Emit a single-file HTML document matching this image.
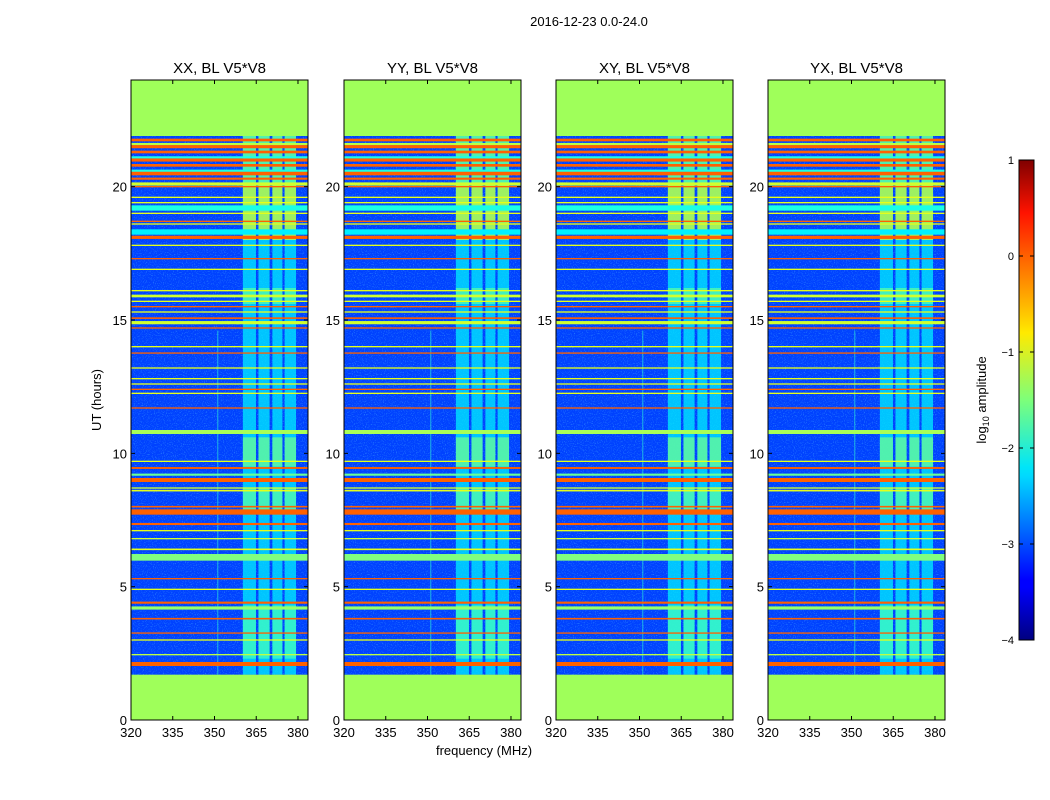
<!DOCTYPE html>
<html><head><meta charset="utf-8"><style>
body{margin:0;background:#fff}
svg{display:block;font-family:"Liberation Sans",sans-serif}
</style></head><body>
<svg id="fig" width="1050" height="800" viewBox="0 0 1050 800">
<defs>
<filter id="noise" x="0" y="0" width="100%" height="100%"><feTurbulence type="fractalNoise" baseFrequency="0.9" numOctaves="1" seed="3"/><feColorMatrix values="0 0 0 0 0.1  0 0 0 0 0.6  0 0 0 0 1  0 0 0 1.6 -0.85"/></filter>
<linearGradient id="jet" x1="0" y1="1" x2="0" y2="0">
<stop offset="0" stop-color="#000080"/><stop offset="0.11" stop-color="#0000ff"/><stop offset="0.125" stop-color="#0000ff"/><stop offset="0.34" stop-color="#00d8ff"/><stop offset="0.36" stop-color="#00e5f8"/><stop offset="0.5" stop-color="#7dff7a"/><stop offset="0.64" stop-color="#ffea00"/><stop offset="0.66" stop-color="#ffd800"/><stop offset="0.89" stop-color="#ff1300"/><stop offset="1" stop-color="#800000"/>
</linearGradient>
</defs>
<text x="589" y="26" font-size="13" text-anchor="middle">2016-12-23 0.0-24.0</text>
<text transform="translate(101,400) rotate(-90)" font-size="13" text-anchor="middle">UT (hours)</text>
<text x="484" y="755" font-size="13" text-anchor="middle">frequency (MHz)</text>
<text transform="translate(986,400) rotate(-90)" font-size="13" text-anchor="middle">log<tspan font-size="9" dy="3">10</tspan><tspan dy="-3"> amplitude</tspan></text>
<g id="panels"></g>
<g id="cbar"></g>
</svg>
<script>
const titles=["XX, BL V5*V8","YY, BL V5*V8","XY, BL V5*V8","YX, BL V5*V8"];
const xTicks=[320,335,350,365,380];
const yTicks=[0,5,10,15,20];
const cbTicks=[1,0,-1,-2,-3,-4];
const blankRanges=[[0,1.7],[21.9,24]];
const channelBands=[[360.2,364.9],[365.8,369.8],[370.8,374.4],[375.2,379.3]];
const bandSegments=[[1.7,21.9,-2.2],[2.3,4.3,-1.8],[7.8,8.7,-1.7],[9.5,10.6,-1.6],[15.6,16.2,-1.7],[18.0,20.1,-1.1],[20.1,21.9,-1.6]];
const rowHours=[2.1,2.45,3.0,3.26,3.8,4.2,4.4,4.9,5.3,6.1,6.4,6.8,7.1,7.35,7.8,8.0,8.6,8.7,9.0,9.2,9.45,9.7,10.8,11.7,12.25,12.4,12.6,12.8,13.2,13.76,14.0,14.7,14.9,15.07,15.3,15.5,15.7,15.9,16.1,16.9,17.3,17.8,18.1,18.3,18.6,18.7,19.0,19.2,19.4,19.6,20.0,20.1,20.3,20.5,20.6,20.8,21.0,21.1,21.3,21.5,21.6,21.75];
const rowWidths=[0.15,0.05,0.05,0.05,0.06,0.12,0.08,0.05,0.05,0.25,0.06,0.05,0.05,0.08,0.2,0.06,0.06,0.05,0.15,0.08,0.07,0.05,0.15,0.05,0.05,0.05,0.05,0.05,0.05,0.05,0.05,0.05,0.12,0.06,0.05,0.05,0.05,0.1,0.05,0.05,0.05,0.05,0.12,0.2,0.05,0.05,0.05,0.2,0.05,0.05,0.05,0.12,0.08,0.15,0.08,0.1,0.12,0.08,0.1,0.12,0.08,0.1];
const rowValues=[-0.1,-1.2,-1.0,-0.1,-0.1,-1.4,-0.1,-1.0,-0.1,-1.5,-1.0,-1.1,-1.0,-0.1,-0.1,-0.1,-1.0,-1.1,-0.1,-1.6,-0.1,-1.0,-1.3,-0.1,-1.0,-0.1,-1.0,-1.0,-1.0,-0.1,-1.0,-0.1,-1.1,-0.1,-1.0,-0.1,-1.0,-1.1,-1.0,-1.0,-0.1,-1.0,-0.1,-2.2,-1.0,-0.1,-1.0,-2.0,-1.0,-1.0,-0.1,-1.1,-0.1,-0.1,-2.0,-0.1,-0.1,-2.0,-0.1,-0.1,-1.2,-0.1];
const vLines=[351];
const panelLeft=[131,344,556,768];
const PW=177,TOP=80,BOT=720,FMIN=320,FMAX=383.6,VMIN=-4,VMAX=1;
const NS="http://www.w3.org/2000/svg";
function jet(v){let t=(v-VMIN)/(VMAX-VMIN);const c=x=>Math.round(255*Math.max(0,Math.min(1,x)));
return `rgb(${c(1.5-Math.abs(4*t-3))},${c(1.5-Math.abs(4*t-2))},${c(1.5-Math.abs(4*t-1))})`;}
const yS=h=>BOT-(h/24)*(BOT-TOP);
function mk(tag,attrs,parent){const e=document.createElementNS(NS,tag);for(const k in attrs)e.setAttribute(k,attrs[k]);parent.appendChild(e);return e;}
const root=document.getElementById('panels');
panelLeft.forEach((L,pi)=>{
 const xS=f=>L+(f-FMIN)/(FMAX-FMIN)*PW;
 const g=mk('g',{},root);
 
 
 const cid='clip'+pi;
 const cp=mk('clipPath',{id:cid},g);mk('rect',{x:L,y:TOP,width:PW,height:BOT-TOP},cp);
 const d=mk('g',{'clip-path':`url(#${cid})`},g);
 
 
 const bg=mk('rect',{x:L,y:TOP,width:PW,height:BOT-TOP,fill:jet(-3.05)},d);
 
 
 mk('rect',{x:L,y:TOP,width:PW,height:BOT-TOP,filter:'url(#noise)'},d);
 channelBands.forEach(cb=>bandSegments.forEach(s=>{
  const r=mk('rect',{x:xS(cb[0]),width:xS(cb[1])-xS(cb[0]),y:yS(s[1]),height:yS(s[0])-yS(s[1]),fill:jet(s[2]),opacity:0.75},d);
  
  
 }));
 vLines.forEach(f=>{const r=mk('rect',{x:xS(f),width:1,y:yS(14.6),height:yS(1.7)-yS(14.6),fill:jet(-1.9),opacity:0.6},d);
  
  });
 rowHours.forEach((h,i)=>{
  const w=Math.max(rowWidths[i],0.045);
  const r=mk('rect',{x:L,width:PW,y:yS(h+w/2),height:Math.max(1.2,yS(h-w/2)-yS(h+w/2)),fill:jet(rowValues[i])},d);
  
  
 });
 blankRanges.forEach(b=>{const r=mk('rect',{x:L,width:PW,y:yS(b[1]),height:yS(b[0])-yS(b[1]),fill:'#9fff5a'},d);
  
  });
 const fr=mk('rect',{x:L,y:TOP,width:PW,height:BOT-TOP,fill:'none',stroke:'#000','stroke-width':1},g);
 
 
 const t=mk('text',{x:L+PW/2,y:TOP-7,'font-size':15,'text-anchor':'middle'},g);t.textContent=titles[pi];
 
 
 xTicks.forEach(f=>{const x=xS(f);
  mk('line',{x1:x,x2:x,y1:BOT,y2:BOT-4,stroke:'#000'},g);mk('line',{x1:x,x2:x,y1:TOP,y2:TOP+4,stroke:'#000'},g);
  const tl=mk('text',{x:x,y:BOT+17,'font-size':13,'text-anchor':'middle'},g);tl.textContent=f;
  
  });
 yTicks.forEach(h=>{const y=yS(h);
  mk('line',{x1:L,x2:L+4,y1:y,y2:y,stroke:'#000'},g);mk('line',{x1:L+PW,x2:L+PW-4,y1:y,y2:y,stroke:'#000'},g);
  const tl=mk('text',{x:L-4,y:y+5,'font-size':13,'text-anchor':'end'},g);tl.textContent=h;
  
  });
});
const cb=document.getElementById('cbar');
const CX=1019,CW=15,CT=160,CB=640;
mk('rect',{x:CX,y:CT,width:CW,height:CB-CT,fill:'url(#jet)',stroke:'#000'},cb);
cbTicks.forEach(v=>{const y=CB-(v-VMIN)/(VMAX-VMIN)*(CB-CT);
 mk('line',{x1:CX,x2:CX+4,y1:y,y2:y,stroke:'#000'},cb);mk('line',{x1:CX+CW,x2:CX+CW-4,y1:y,y2:y,stroke:'#000'},cb);
 const tl=mk('text',{x:CX-5,y:y+4,'font-size':11,'text-anchor':'end'},cb);tl.textContent=v<0?'\u2212'+(-v):v;
 
 });
</script>
</body></html>
